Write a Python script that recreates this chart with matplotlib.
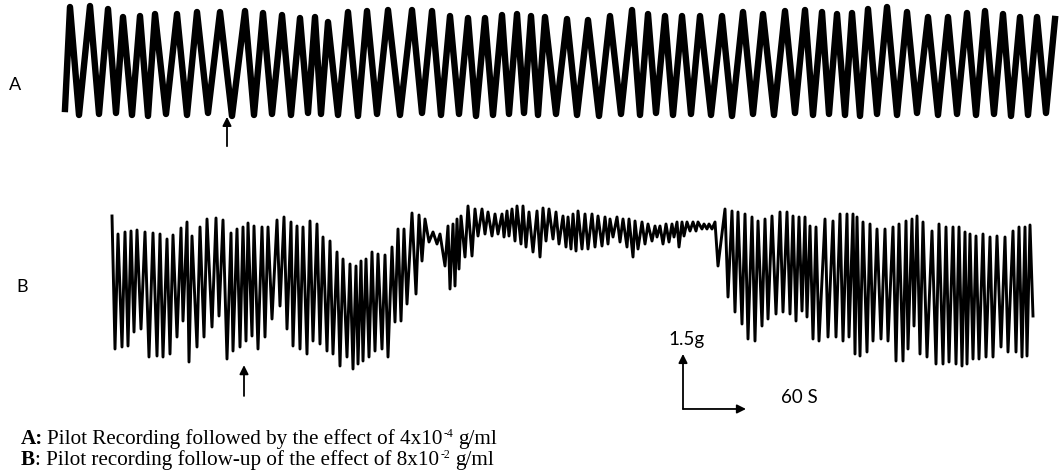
import numpy as np
import matplotlib.pyplot as plt

# --------------------
# Page / scale set-up
# --------------------

W, H = 1059, 477
PX_PER_S = 1.0     # chart speed: ~1 px of scan per second (60 s bar)
PX_PER_G = 36.7    # pen deflection per gram (1.5 g bar ~ 55 px)

plt.rcParams["font.family"] = ["Lato", "DejaVu Sans"]

# ---------------------------------------------------------------
# Trace A (pilot recording + 4x10^-4 g/ml)
# time in s from start of trace, deflection in chart px above baseline
# ---------------------------------------------------------------

a_trough_t = [0, 14, 34, 51, 67, 83, 101, 122, 143, 167, 189, 207, 226, 243, 256, 273, 293, 312,
              335, 357, 376, 394, 411, 428, 444, 459, 473, 491, 512, 534, 556, 575, 591, 608,
              626, 646, 667, 688, 709, 730, 748, 764, 780, 795, 812, 832, 852, 873, 892, 911,
              929, 946, 963, 981]
a_trough_defl = [6, 0, 1, 2, 0, -1, 1, 0, 2, -1, 0, 1, 0, 2, 1, 0, -1, 1, 0, 2, 0, 1, -1, 0, 1, 2,
                 0, 1, 0, -1, 1, 0, 2, 0, 1, 0, -1, 1, 0, 2, 0, 1, 0, -1, 1, 0, 2, 0, 1, 0, 1,
                 -1, 0, 2]
a_peak_t = [5, 25, 43, 58, 75, 90, 112, 132, 155, 180, 198, 217, 235, 250, 263, 283, 302, 323,
            347, 367, 385, 403, 420, 437, 452, 466, 480, 502, 523, 545, 567, 583, 600, 617, 635,
            657, 678, 698, 720, 740, 757, 772, 787, 803, 822, 842, 863, 883, 902, 920, 938, 955,
            972, 990]
a_peak_defl = [108, 109, 106, 98, 99, 101, 101, 103, 103, 104, 102, 100, 97, 98, 93, 103, 104,
               105, 105, 104, 99, 97, 97, 100, 101, 99, 98, 96, 95, 99, 105, 101, 99, 99, 99, 99,
               103, 101, 104, 105, 103, 101, 102, 106, 108, 103, 98, 98, 102, 104, 101, 98, 98, 96]

# ---------------------------------------------------------------
# Trace B (pilot recording + 8x10^-2 g/ml)
# ---------------------------------------------------------------

b_peak_t = [2, 8, 15, 21, 27, 35, 43, 50, 57, 63, 71, 77, 82, 90, 97, 106, 113, 121, 127, 133,
            138, 144, 152, 158, 167, 174, 181, 187, 193, 200, 207, 213, 220, 227, 233, 240, 246,
            251, 256, 262, 268, 275, 282, 288, 294, 302, 309, 315,
            323, 330, 338, 343, 347, 351, 358, 365, 372, 378, 385, 392, 397, 402, 407, 413, 419,
            427, 433, 439, 446, 453, 458, 463, 468, 475, 482, 488, 495, 500, 507, 513, 519, 525,
            532, 538, 545, 550, 556, 562, 567, 572, 577, 583, 588, 594, 599, 605,
            615, 622, 628, 635, 642, 648, 655, 662, 670, 677, 683, 689, 695, 700, 706, 715, 723,
            730, 737, 743, 747, 753, 760, 767, 775, 783, 789, 796, 802, 807, 813, 822, 829, 836,
            843, 849, 855, 860, 866, 873, 880, 887, 895, 903, 909, 915, 920]
b_peak_defl = [155, 137, 139, 140, 141, 139, 138, 137, 132, 136, 143, 149, 135, 144, 152, 153,
               151, 138, 142, 144, 148, 145, 144, 144, 151, 154, 149, 145, 144, 150, 147, 134,
               130, 119, 112, 107, 105, 110, 112, 119, 117, 116, 124, 142, 142, 158, 156, 152,
               139, 137, 145, 147, 152, 155, 165, 162, 162, 159, 157, 157, 160, 162, 165, 165,
               159, 160, 163, 162, 159, 155, 154, 157, 160, 157, 157, 155, 154, 152, 154, 152,
               152, 150, 149, 147, 145, 145, 147, 147, 149, 149, 149, 149, 149, 147, 147, 149,
               162, 160, 159, 157, 154, 150, 152, 155, 159, 159, 155, 154, 154, 145, 144, 152,
               150, 157, 157, 157, 154, 149, 147, 142, 142, 144, 147, 150, 152, 155, 149, 140,
               147, 144, 144, 144, 139, 137, 135, 137, 134, 135, 134, 140, 144, 144, 146]
b_trough_t = [5, 12, 18, 24, 31, 39, 47, 53, 60, 67, 73, 79, 87, 94, 102, 109, 117, 123, 130,
              136, 142, 148, 155, 162, 170, 177, 183, 190, 197, 203, 210, 217, 223, 230, 237,
              243, 248, 253, 259, 265, 272, 278, 285, 291, 297, 306, 312, 319,
              327, 335, 340, 345, 349, 355, 362, 368, 375, 382, 388, 394, 399, 405, 411, 416,
              423, 430, 436, 443, 449, 456, 461, 466, 472, 478, 485, 492, 498, 503, 510, 517,
              523, 528, 535, 542, 547, 553, 559, 564, 569, 574, 580, 586, 592, 597, 602, 608,
              618, 625, 632, 638, 645, 652, 658, 666, 673, 680, 686, 692, 697, 703, 709, 718,
              726, 733, 739, 745, 750, 757, 763, 771, 778, 786, 793, 798, 804, 810, 817, 826,
              833, 839, 846, 852, 857, 863, 869, 876, 883, 891, 898, 906, 912, 917, 923]
b_trough_defl = [22, 24, 25, 39, 42, 14, 15, 14, 17, 34, 50, 9, 24, 34, 44, 55, 12, 20, 24, 30,
                 35, 22, 34, 52, 65, 42, 25, 22, 17, 30, 27, 20, 17, 5, 14, 2, 7, 10, 14, 20,
                 22, 14, 49, 50, 67, 77, 110, 129,
                 127, 105, 82, 85, 102, 114, 115, 135, 137, 135, 137, 134, 135, 130, 127, 124,
                 119, 114, 130, 132, 127, 124, 122, 120, 122, 122, 124, 125, 127, 134, 129, 124,
                 114, 122, 127, 130, 134, 127, 129, 134, 124, 135, 140, 140, 142, 142, 142, 105,
                 74, 59, 47, 32, 30, 45, 52, 57, 59, 57, 50, 60, 54, 32, 30, 34, 34, 30, 34, 17,
                 15, 19, 30, 32, 30, 10, 10, 22, 45, 17, 14, 7, 7, 9, 7, 5, 7, 12, 12, 14, 14,
                 24, 19, 19, 14, 15, 55]

# drug addition times (s) and calibration bar
a_dose_t = 162
b_dose_t = 134
bar_g, bar_s = 1.5, 60


def interleave(t1, f1, t2, f2):
    """Alternate two point sets (troughs / peaks) into one pen path"""
    t = np.column_stack([t1, t2]).ravel()
    f = np.column_stack([f1, f2]).ravel() / PX_PER_G
    return t, f


def trace_axes(fig, left, top, width, height, x0, y0):
    """Axes on a pixel box of the page; (x0, y0) is where t=0, force=0 sits"""
    ax = fig.add_axes([left / W, 1 - (top + height) / H, width / W, height / H])
    ax.set_xlim((left - x0) / PX_PER_S, (left + width - x0) / PX_PER_S)
    ax.set_ylim((y0 - top - height) / PX_PER_G, (y0 - top) / PX_PER_G)
    ax.axis("off")
    return ax


def caption_line(fig, x_px, y_px, runs):
    """Write runs of text side by side (bold parts, superscripts)"""
    renderer = fig.canvas.get_renderer()
    x = x_px
    for text, weight, size, rise, gap in runs:
        x += gap
        t = fig.text(x / W, 1 - (y_px - rise) / H, text, fontsize=size, fontweight=weight,
                     family="Liberation Serif", va="baseline")
        x = t.get_window_extent(renderer).x1


fig = plt.figure(figsize=(W / 100, H / 100), dpi=100)

arrow = dict(arrowstyle="-|>", color="black", lw=1.3, mutation_scale=13, shrinkA=0, shrinkB=0)

# Trace A
ax_a = trace_axes(fig, 0, 0, W, 160, 65, 116)
t, f = interleave(a_trough_t, a_trough_defl, a_peak_t, a_peak_defl)
ax_a.plot(t, f, color="black", lw=4.6, solid_joinstyle="round")
ax_a.annotate("", xy=(a_dose_t, -0.05), xytext=(a_dose_t, -0.85), arrowprops=arrow)

# Trace B
ax_b = trace_axes(fig, 0, 190, W, 240, 110, 372)
t, f = interleave(b_peak_t, b_peak_defl, b_trough_t, b_trough_defl)
ax_b.plot(t, f, color="black", lw=2.1, solid_joinstyle="round")
ax_b.annotate("", xy=(b_dose_t, 0.16), xytext=(b_dose_t, -0.68), arrowprops=arrow)

# calibration bar: 1.5 g / 60 s
bar_t0, bar_f0 = 573, -1.035
ax_b.annotate("", xy=(bar_t0, bar_f0 + bar_g), xytext=(bar_t0, bar_f0), arrowprops=arrow)
ax_b.annotate("", xy=(bar_t0 + bar_s + 3, bar_f0), xytext=(bar_t0, bar_f0), arrowprops=arrow)
ax_b.text(bar_t0 + 3, bar_f0 + bar_g + 0.18, f"{bar_g}g", ha="center", va="bottom", fontsize=13.5)
ax_b.text(bar_t0 + bar_s + 38, bar_f0 + 0.33, f"{bar_s} S", ha="left", va="center", fontsize=13.5)

# panel letters
fig.text(15 / W, 1 - 85 / H, "A", ha="center", va="center", fontsize=13)
fig.text(22 / W, 1 - 287 / H, "B", ha="center", va="center", fontsize=13)

# legend below the traces
size = 15.2
caption_line(fig, 21, 444, [
    ("A:", "bold", size, 0, 0),
    ("Pilot Recording followed by the effect of 4x10", "normal", size, 0, 4),
    ("-4", "normal", 8.5, 7, 1),
    ("g/ml", "normal", size, 0, 5),
])
caption_line(fig, 21, 465, [
    ("B", "bold", size, 0, 0),
    (": Pilot recording follow-up of the effect of 8x10", "normal", size, 0, 0),
    ("-2", "normal", 8.5, 7, 1),
    ("g/ml", "normal", size, 0, 5),
])

fig.savefig("out.png", dpi=100)
